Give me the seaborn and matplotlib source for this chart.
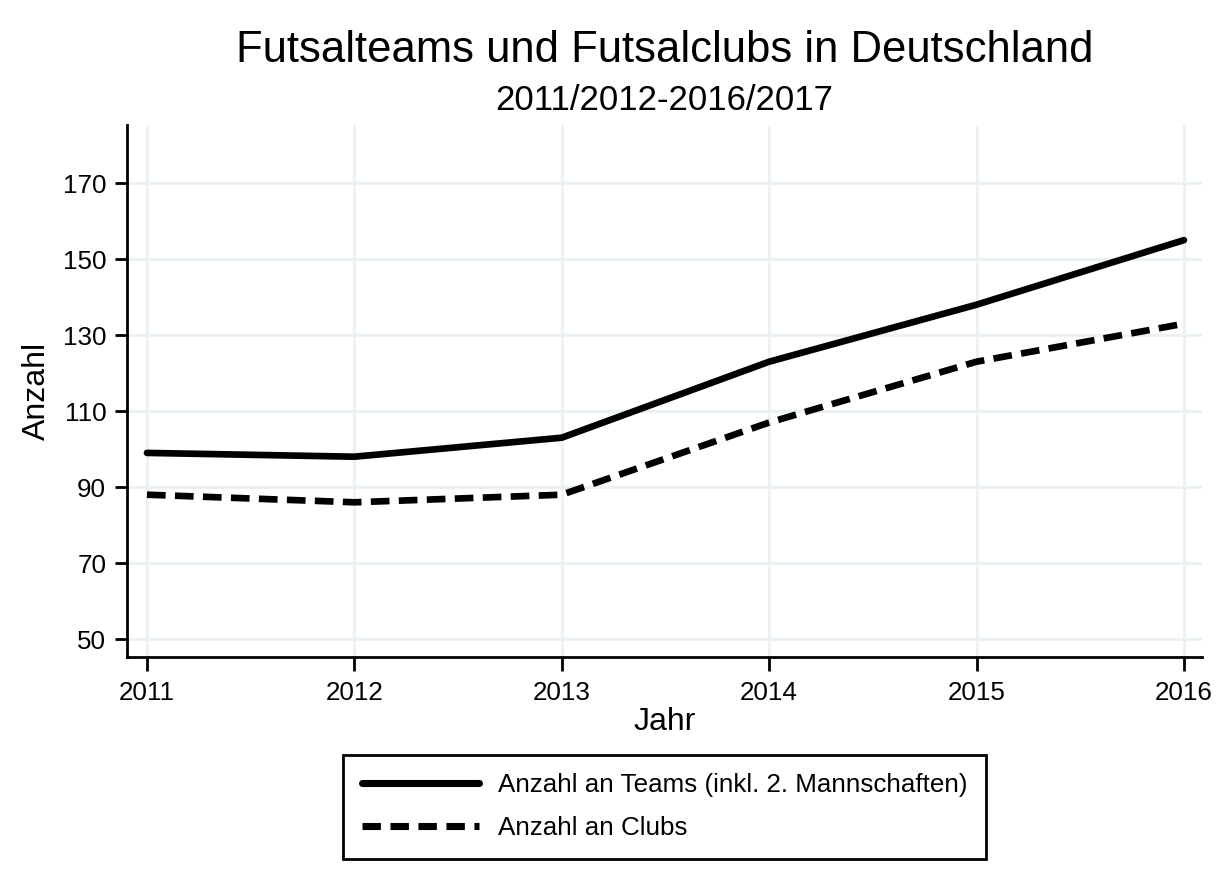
import matplotlib
matplotlib.use("Agg")
import matplotlib.pyplot as plt
import seaborn as sns
import pandas as pd

years = [2011, 2012, 2013, 2014, 2015, 2016]
teams = [99, 98, 103, 123, 138, 155]
clubs = [88, 86, 88, 107, 123, 133]
label_teams = "Anzahl an Teams (inkl. 2. Mannschaften)"
label_clubs = "Anzahl an Clubs"
yticks = [50, 70, 90, 110, 130, 150, 170]

sns.set_theme(style="white")
plt.rcParams['font.family'] = ['Liberation Sans', 'DejaVu Sans']
plt.rcParams['text.color'] = 'black'

df_t = pd.DataFrame({"Jahr": years, "Anzahl": teams})
df_c = pd.DataFrame({"Jahr": years, "Anzahl": clubs})

fig = plt.figure(figsize=(12.3, 8.77), dpi=100)
ax = fig.add_axes([0.1033, 0.2509, 0.8739, 0.6066])

LW = 4.8
sns.lineplot(data=df_t, x="Jahr", y="Anzahl", ax=ax, color="black",
             linewidth=LW, label=label_teams, solid_capstyle="round")
sns.lineplot(data=df_c, x="Jahr", y="Anzahl", ax=ax, color="black",
             linewidth=LW, label=label_clubs, dashes=False)
ax.lines[1].set_dashes((2.8, 1.4))
ax.lines[1].set_dash_capstyle("butt")

ax.set_xlim(2010.904, 2016.087)
ax.set_ylim(45.3, 185.3)
ax.set_xticks(years)
ax.set_xticklabels([str(y) for y in years])
ax.set_yticks(yticks)

ax.grid(True, color="#EAF2F3", linewidth=2.2)
ax.set_axisbelow(True)
for s in ["top", "right"]:
    ax.spines[s].set_visible(False)
for s in ["left", "bottom"]:
    ax.spines[s].set_color("black")
    ax.spines[s].set_linewidth(2.0)

ax.tick_params(axis="x", which="major", length=10, width=2.0, pad=7,
               labelsize=18.7, colors="black", direction="out", bottom=True)
ax.tick_params(axis="y", which="major", length=9, width=2.0, pad=6,
               labelsize=18.7, colors="black", direction="out", left=True)

ax.set_xlabel("Jahr", fontsize=23, color="black", labelpad=2)
ax.set_ylabel("Anzahl", fontsize=23, color="black", labelpad=8)

fig.text(0.5402, 0.929, "Futsalteams und Futsalclubs in Deutschland",
         ha="center", va="baseline", fontsize=31.4, color="black")
fig.text(0.5402, 0.8746, "2011/2012-2016/2017",
         ha="center", va="baseline", fontsize=25, color="black")

leg = ax.legend(loc="upper center", bbox_to_anchor=(0.5405, 0.1395),
                bbox_transform=fig.transFigure, ncol=1, fontsize=18.7,
                frameon=True, fancybox=False, edgecolor="black",
                framealpha=1, handlelength=4.5, handletextpad=0.75,
                borderpad=0.72, labelspacing=0.72, borderaxespad=0)
leg.get_frame().set_linewidth(2.0)
for h in leg.get_lines():
    h.set_linewidth(LW + 0.3)
leg.get_lines()[1].set_dashes((2.6, 1.35))

fig.savefig("out.png", dpi=100)
